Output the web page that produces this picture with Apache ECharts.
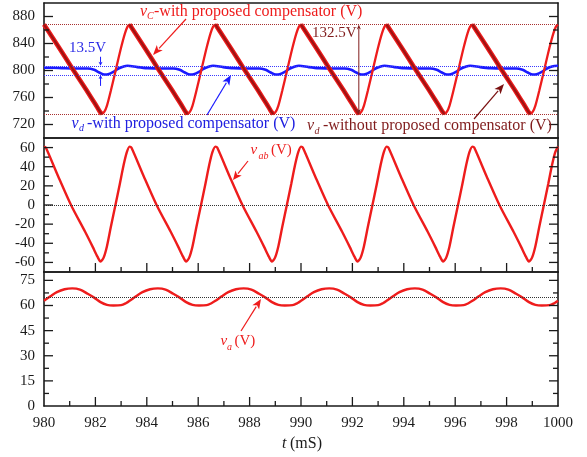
<!DOCTYPE html>
<html>
<head>
<meta charset="utf-8">
<title>Voltage waveforms</title>
<script src="https://cdn.jsdelivr.net/npm/echarts@6.0.0/dist/echarts.min.js"></script>
<style>
html, body { margin: 0; padding: 0; background: #fff; }
#chart { width: 587px; height: 457px; }
</style>
</head>
<body>
<div id="chart"></div>
<script>
// ---- tick labels ----
const timeTicks = [980, 982, 984, 986, 988, 990, 992, 994, 996, 998, 1000];
const vcTicks = [720, 760, 800, 840, 880];
const vabTicks = [-60, -40, -20, 0, 20, 40, 60];
const vaTicks = [0, 15, 30, 45, 60, 75];

// ---- capacitor voltage with compensator, [t (ms), V] ----
const vC = [
  [980,868],[980.07,865.5],[980.55,836],[981.1,803],[981.65,771],[982.0,750],[982.15,740.5],[982.25,735.5],[982.35,739],[982.45,748],[982.6,770],[982.8,802],[983.0,834],[983.15,855],[983.25,865],
  [983.33,868],[983.4,865.5],[983.88,836],[984.43,803],[984.98,771],[985.33,750],[985.48,740.5],[985.58,735.5],[985.68,739],[985.78,748],[985.93,770],[986.13,802],[986.33,834],[986.48,855],[986.58,865],
  [986.67,868],[986.74,865.5],[987.22,836],[987.77,803],[988.32,771],[988.67,750],[988.82,740.5],[988.92,735.5],[989.02,739],[989.12,748],[989.27,770],[989.47,802],[989.67,834],[989.82,855],[989.92,865],
  [990,868],[990.07,865.5],[990.55,836],[991.1,803],[991.65,771],[992.0,750],[992.15,740.5],[992.25,735.5],[992.35,739],[992.45,748],[992.6,770],[992.8,802],[993.0,834],[993.15,855],[993.25,865],
  [993.33,868],[993.4,865.5],[993.88,836],[994.43,803],[994.98,771],[995.33,750],[995.48,740.5],[995.58,735.5],[995.68,739],[995.78,748],[995.93,770],[996.13,802],[996.33,834],[996.48,855],[996.58,865],
  [996.67,868],[996.74,865.5],[997.22,836],[997.77,803],[998.32,771],[998.67,750],[998.82,740.5],[998.92,735.5],[999.02,739],[999.12,748],[999.27,770],[999.47,802],[999.67,834],[999.82,855],[999.92,865],[1000,868]
];

// ---- dc-link voltage without compensator (discharge segments) ----
const vdWithout = [
  [980,868],[980.55,836],[981.1,803],[981.65,771],[982.0,750],[982.15,740.5],[982.25,735.5],[982.3,'-'],
  [983.33,868],[983.88,836],[984.43,803],[984.98,771],[985.33,750],[985.48,740.5],[985.58,735.5],[985.63,'-'],
  [986.67,868],[987.22,836],[987.77,803],[988.32,771],[988.67,750],[988.82,740.5],[988.92,735.5],[988.97,'-'],
  [990,868],[990.55,836],[991.1,803],[991.65,771],[992.0,750],[992.15,740.5],[992.25,735.5],[992.3,'-'],
  [993.33,868],[993.88,836],[994.43,803],[994.98,771],[995.33,750],[995.48,740.5],[995.58,735.5],[995.63,'-'],
  [996.67,868],[997.22,836],[997.77,803],[998.32,771],[998.67,750],[998.82,740.5],[998.92,735.5]
];

// ---- dc-link voltage with compensator ----
const vdWith = [
  [980,804],[980.3,804],[980.7,803.5],[981.2,803],[981.7,803],[981.95,801],[982.15,797],[982.35,794],[982.5,794.5],[982.7,798],[982.9,803],[983.1,806],[983.25,807],
  [983.63,805],[984.03,803.5],[984.53,803],[985.03,803],[985.28,801],[985.48,797],[985.68,794],[985.83,794.5],[986.03,798],[986.23,803],[986.43,806],[986.58,807],
  [986.97,805],[987.37,803.5],[987.87,803],[988.37,803],[988.62,801],[988.82,797],[989.02,794],[989.17,794.5],[989.37,798],[989.57,803],[989.77,806],[989.92,807],
  [990.3,805],[990.7,803.5],[991.2,803],[991.7,803],[991.95,801],[992.15,797],[992.35,794],[992.5,794.5],[992.7,798],[992.9,803],[993.1,806],[993.25,807],
  [993.63,805],[994.03,803.5],[994.53,803],[995.03,803],[995.28,801],[995.48,797],[995.68,794],[995.83,794.5],[996.03,798],[996.23,803],[996.43,806],[996.58,807],
  [996.97,805],[997.37,803.5],[997.87,803],[998.37,803],[998.62,801],[998.82,797],[999.02,794],[999.17,794.5],[999.37,798],[999.57,803],[999.77,806],[1000,807]
];

// ---- vab ----
const vab = [
  [980,61],[980.07,60],[980.55,30],[981.05,0],[981.6,-28],[981.9,-44],[982.08,-54],[982.2,-59],[982.32,-55],[982.45,-43],[982.6,-23],[982.78,0],[982.95,22],[983.1,42],[983.22,55],
  [983.33,61],[983.4,60],[983.88,30],[984.38,0],[984.93,-28],[985.23,-44],[985.41,-54],[985.53,-59],[985.65,-55],[985.78,-43],[985.93,-23],[986.11,0],[986.28,22],[986.43,42],[986.55,55],
  [986.67,61],[986.74,60],[987.22,30],[987.72,0],[988.27,-28],[988.57,-44],[988.75,-54],[988.87,-59],[988.99,-55],[989.12,-43],[989.27,-23],[989.45,0],[989.62,22],[989.77,42],[989.89,55],
  [990,61],[990.07,60],[990.55,30],[991.05,0],[991.6,-28],[991.9,-44],[992.08,-54],[992.2,-59],[992.32,-55],[992.45,-43],[992.6,-23],[992.78,0],[992.95,22],[993.1,42],[993.22,55],
  [993.33,61],[993.4,60],[993.88,30],[994.38,0],[994.93,-28],[995.23,-44],[995.41,-54],[995.53,-59],[995.65,-55],[995.78,-43],[995.93,-23],[996.11,0],[996.28,22],[996.43,42],[996.55,55],
  [996.67,61],[996.74,60],[997.22,30],[997.72,0],[998.27,-28],[998.57,-44],[998.75,-54],[998.87,-59],[998.99,-55],[999.12,-43],[999.27,-23],[999.45,0],[999.62,22],[999.77,42],[999.89,55],[1000,61]
];

// ---- va ----
const va = [
  [980,62.8],[980.25,65.5],[980.5,68],[980.8,69.7],[981.1,70.2],[981.4,69.5],[981.7,67],[981.95,64.7],[982.2,62],[982.45,60.4],[982.7,60],[983.0,60.2],[983.2,61.5],
  [983.33,62.8],[983.58,65.5],[983.83,68],[984.13,69.7],[984.43,70.2],[984.73,69.5],[985.03,67],[985.28,64.7],[985.53,62],[985.78,60.4],[986.03,60],[986.33,60.2],[986.53,61.5],
  [986.67,62.8],[986.92,65.5],[987.17,68],[987.47,69.7],[987.77,70.2],[988.07,69.5],[988.37,67],[988.62,64.7],[988.87,62],[989.12,60.4],[989.37,60],[989.67,60.2],[989.87,61.5],
  [990,62.8],[990.25,65.5],[990.5,68],[990.8,69.7],[991.1,70.2],[991.4,69.5],[991.7,67],[991.95,64.7],[992.2,62],[992.45,60.4],[992.7,60],[993.0,60.2],[993.2,61.5],
  [993.33,62.8],[993.58,65.5],[993.83,68],[994.13,69.7],[994.43,70.2],[994.73,69.5],[995.03,67],[995.28,64.7],[995.53,62],[995.78,60.4],[996.03,60],[996.33,60.2],[996.53,61.5],
  [996.67,62.8],[996.92,65.5],[997.17,68],[997.47,69.7],[997.77,70.2],[998.07,69.5],[998.37,67],[998.62,64.7],[998.87,62],[999.12,60.4],[999.37,60],[999.67,60.2],[999.87,61.5],[1000,62.8]
];

// reference levels
const vcBounds = [868, 735.5];      // 132.5 V swing
const vdWithBand = [807, 793.5];    // 13.5 V ripple
const vabLevel = [0];
const vaLevel = [65];

const FONT = '"Liberation Serif", "Times New Roman", serif';
const RED = '#ee1c1c', CORE = '#a01212', BLUE = '#1a1aff', MAROON = '#801c1c', INK = '#1a1a1a';

const panels = [
  { top: 3,   height: 135, min: 700, max: 900, minor: 20,  ticks: vcTicks },
  { top: 138, height: 134, min: -70, max: 70,  minor: 10,  ticks: vabTicks },
  { top: 272, height: 134, min: 0,   max: 80,  minor: 7.5, ticks: vaTicks }
];

const grid = panels.map(p => ({ left: 44, right: 29, top: p.top, height: p.height, show: false }));

const frame = { show: true, onZero: false, lineStyle: { color: INK, width: 1.6 } };
const yAxis = [];
const xAxis = [];
panels.forEach((p, g) => {
  ['left', 'right'].forEach(pos => {
    yAxis.push({
      gridIndex: g, type: 'value', position: pos,
      min: p.min, max: p.max, interval: p.minor,
      axisLine: frame, splitLine: { show: false }, axisTick: { show: false },
      axisLabel: {
        show: pos === 'left', customValues: p.ticks, margin: 9,
        fontFamily: FONT, fontSize: 15, color: INK
      }
    });
  });
  xAxis.push({
    gridIndex: g, type: 'value', position: 'bottom', min: 980, max: 1000, interval: 2,
    axisLine: frame, splitLine: { show: false }, axisTick: { show: false },
    axisLabel: { show: g === 2, margin: 10, fontFamily: FONT, fontSize: 15, color: INK,
                 formatter: v => (timeTicks.includes(v) ? String(v) : '') }
  });
  xAxis.push({
    gridIndex: g, type: 'value', position: 'top', min: 980, max: 1000, interval: 2,
    axisLine: frame, splitLine: { show: false },
    axisTick: { show: false }, axisLabel: { show: false }
  });
});

function levelLines(values, color) {
  return {
    silent: true, symbol: 'none', label: { show: false },
    lineStyle: { type: 'dotted', color: color, width: 1 },
    data: values.map(v => ({ yAxis: v }))
  };
}

const series = [
  { name: 'vd with', type: 'line', xAxisIndex: 0, yAxisIndex: 0, data: vdWith, smooth: 0.3,
    showSymbol: false, lineStyle: { color: BLUE, width: 2.6 }, z: 2,
    markLine: levelLines(vdWithBand, '#3a3aff') },
  { name: 'vC', type: 'line', xAxisIndex: 0, yAxisIndex: 0, data: vC, smooth: 0.25,
    showSymbol: false, lineStyle: { color: RED, width: 2.3 }, z: 3,
    markLine: levelLines(vcBounds, '#a83030') },
  // vd without compensator: red outline with a dark core
  { name: 'vd without', type: 'line', xAxisIndex: 0, yAxisIndex: 0, data: vdWithout, smooth: 0.25,
    showSymbol: false, connectNulls: false, lineStyle: { color: RED, width: 4.6 }, z: 4 },
  { name: 'vd without core', type: 'line', xAxisIndex: 0, yAxisIndex: 0, data: vdWithout, smooth: 0.25,
    showSymbol: false, connectNulls: false, lineStyle: { color: CORE, width: 2.2 }, z: 5 },
  { name: 'vab', type: 'line', xAxisIndex: 2, yAxisIndex: 2, data: vab, smooth: 0.25,
    showSymbol: false, lineStyle: { color: RED, width: 2.4 }, z: 3,
    markLine: levelLines(vabLevel, '#333') },
  { name: 'va', type: 'line', xAxisIndex: 4, yAxisIndex: 4, data: va, smooth: 0.3,
    showSymbol: false, lineStyle: { color: RED, width: 2.4 }, z: 3,
    markLine: levelLines(vaLevel, '#333') }
];

const chart = echarts.init(document.getElementById('chart'), null, { renderer: 'canvas' });
chart.setOption({ animation: false, backgroundColor: '#fff', grid, xAxis, yAxis, series });

const toPx = (g, pt) => chart.convertToPixel({ xAxisIndex: 2 * g, yAxisIndex: 2 * g }, pt);

// ---- inward ticks on every frame side, placed through each panel's scales ----
const MAJOR = 9, MINOR = 5;
const tickMarks = [];
function tick(x1, y1, x2, y2) {
  tickMarks.push({ type: 'line', silent: true, z: 40, shape: { x1, y1, x2, y2 },
                   style: { stroke: INK, lineWidth: 1.3 } });
}
panels.forEach((p, g) => {
  const n = Math.round((p.max - p.min) / p.minor);
  for (let i = 1; i < n; i++) {
    const v = p.min + i * p.minor;
    const len = p.ticks.includes(v) ? MAJOR : MINOR;
    const [xl, y] = toPx(g, [980, v]);
    const [xr] = toPx(g, [1000, v]);
    tick(xl, y, xl + len, y);
    tick(xr - len, y, xr, y);
  }
  if (g > 0) {
    for (let t = 981; t < 1000; t++) {
      const len = timeTicks.includes(t) ? MAJOR : MINOR;
      const [x, yb] = toPx(g, [t, p.min]);
      tick(x, yb, x, yb - len);
    }
  }
});

// ---- annotations ----
function txt(text, x, y, color, size, italic) {
  return { type: 'text', silent: true, z: 50, style: {
    text, x, y, fill: color, align: 'left', verticalAlign: 'middle',
    font: (italic ? 'italic ' : '') + size + 'px ' + FONT } };
}
function arrow(x0, y0, x1, y1, color, head, half, w) {
  const dx = x1 - x0, dy = y1 - y0, len = Math.hypot(dx, dy);
  const ux = dx / len, uy = dy / len;
  const bx = x1 - ux * head, by = y1 - uy * head;
  return [
    { type: 'line', silent: true, z: 50, shape: { x1: x0, y1: y0, x2: bx + ux * 1, y2: by + uy * 1 },
      style: { stroke: color, lineWidth: w } },
    { type: 'polygon', silent: true, z: 50,
      shape: { points: [[x1, y1], [bx - uy * half, by + ux * half], [bx + ux * head * 0.25, by + uy * head * 0.25], [bx + uy * half, by - ux * half]] },
      style: { fill: color } }
  ];
}

const top1 = toPx(0, [992.25, vcBounds[0]]);
const bot1 = toPx(0, [992.25, vcBounds[1]]);
const rUp = toPx(0, [982.2, vdWithBand[0]]);
const rLo = toPx(0, [982.2, vdWithBand[1]]);

const graphic = [
  ...tickMarks,
  // vC label
  txt('v', 140, 12, RED, 16, true), txt('C', 147, 16.5, RED, 10, true),
  txt('-with proposed compensator (V)', 154, 12, RED, 16, false),
  ...arrow(186, 19, 153, 55, RED, 10, 4, 1.2),
  // ripple of vd with compensator
  txt('13.5V', 69, 48.5, '#2a2ae6', 15, false),
  ...arrow(rUp[0], rUp[1] - 9, rUp[0], rUp[1], BLUE, 4, 2, 1),
  ...arrow(rLo[0], rLo[1] + 11, rLo[0], rLo[1], BLUE, 4, 2, 1),
  // vd with compensator label
  txt('v', 71.5, 123.5, '#2020e0', 16, true), txt('d', 79, 128.5, '#2020e0', 10, true),
  txt('-with proposed compensator (V)', 87, 123.5, '#2020e0', 16, false),
  ...arrow(207, 115, 231, 75, BLUE, 10, 4, 1.2),
  // swing of vC
  txt('132.5V', 312, 33.5, MAROON, 15, false),
  ...arrow(top1[0], (top1[1] + bot1[1]) / 2, top1[0], top1[1], MAROON, 5, 2, 1),
  ...arrow(top1[0], (top1[1] + bot1[1]) / 2, bot1[0], bot1[1], MAROON, 5, 2, 1),
  // vd without compensator label
  txt('v', 307, 126, MAROON, 16, true), txt('d', 314.5, 131, MAROON, 10, true),
  txt('-without proposed compensator (V)', 323, 126, MAROON, 16, false),
  ...arrow(474, 119, 504, 84, '#7a1010', 10, 4, 1.2),
  // vab label
  txt('v', 250.5, 150.5, RED, 15, true), txt('ab', 258.5, 156, RED, 10, true),
  txt('(V)', 271, 150.5, RED, 15, false),
  ...arrow(248, 161, 233, 180, RED, 9, 4, 1.2),
  // va label
  txt('v', 220.5, 341.5, RED, 15, true), txt('a', 227, 347, RED, 10, true),
  txt('(V)', 234.5, 341.5, RED, 15, false),
  ...arrow(241, 331, 261, 299, RED, 10, 4, 1.2),
  // time axis name
  txt('t', 282, 444, INK, 16, true), txt('(mS)', 290, 444, INK, 16, false)
];
chart.setOption({ graphic });
</script>
</body>
</html>
